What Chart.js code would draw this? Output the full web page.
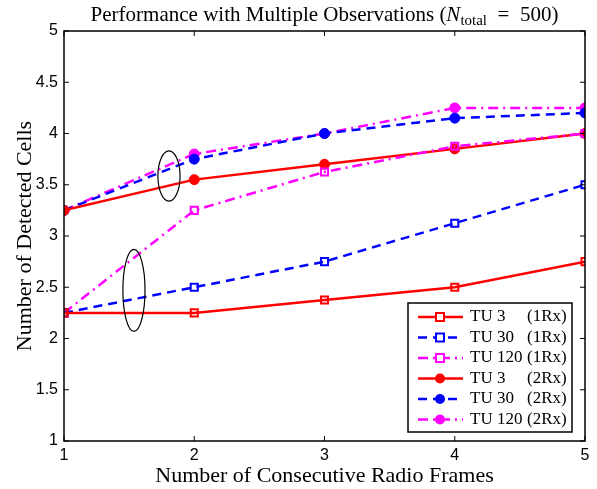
<!DOCTYPE html>
<html>
<head>
<meta charset="utf-8">
<script src="https://cdn.jsdelivr.net/npm/chart.js@4/dist/chart.umd.min.js"></script>
<style>
  html, body { margin: 0; padding: 0; background: #fff; }
  #wrap { width: 597px; height: 489px; }
</style>
</head>
<body>
<div id="wrap"><canvas id="chart" width="597" height="489"></canvas></div>
<script>
// Data
const frames = [1, 2, 3, 4, 5];
const yTicks = [1, 1.5, 2, 2.5, 3, 3.5, 4, 4.5, 5];

const tu3Rx1   = [2.25, 2.25, 2.375, 2.5, 2.75];
const tu30Rx1  = [2.25, 2.5, 2.75, 3.125, 3.5];
const tu120Rx1 = [2.25, 3.25, 3.625, 3.875, 4.0];
const tu3Rx2   = [3.25, 3.55, 3.7, 3.85, 4.0];
const tu30Rx2  = [3.25, 3.75, 4.0, 4.15, 4.2];
const tu120Rx2 = [3.25, 3.8, 4.0, 4.25, 4.25];

// annotation ellipses (centre x, centre y, half width, half height) in data units
const ellipses = [
    [1.537, 2.47, 0.085, 0.40],
    [1.806, 3.585, 0.085, 0.245]
];

const RED = '#ff0000', BLUE = '#0000ff', MAG = '#ff00ff';
const SOLID = [], DASH = [9, 6], DASHDOT = [10, 5, 2, 5];
const SERIF = '"Liberation Serif", "Times New Roman", serif';
const SANS = '"Liberation Sans", Arial, sans-serif';

function series(label, rx, values, color, dash, isSquare) {
    return {
        label: label,
        rx: rx,
        data: values.map((v, i) => ({ x: frames[i], y: v })),
        borderColor: color,
        borderWidth: 2.5,
        borderDash: dash,
        pointStyle: isSquare ? 'rect' : 'circle',
        pointRadius: 5,
        pointBorderWidth: isSquare ? 2 : 1,
        pointBorderColor: color,
        pointBackgroundColor: isSquare ? 'rgba(255,255,255,0)' : color,
        tension: 0,
        fill: false
    };
}

const datasets = [
    series('TU 3', '(1Rx)', tu3Rx1, RED, SOLID, true),
    series('TU 30', '(1Rx)', tu30Rx1, BLUE, DASH, true),
    series('TU 120', '(1Rx)', tu120Rx1, MAG, DASHDOT, true),
    series('TU 3', '(2Rx)', tu3Rx2, RED, SOLID, false),
    series('TU 30', '(2Rx)', tu30Rx2, BLUE, DASH, false),
    series('TU 120', '(2Rx)', tu120Rx2, MAG, DASHDOT, false)
];

// Box around the plot with inward ticks on every side
const boxPlugin = {
    id: 'box',
    afterDraw(chart) {
        const { ctx, chartArea: a, scales } = chart;
        ctx.save();
        ctx.strokeStyle = '#000';
        ctx.lineWidth = 1.5;
        ctx.strokeRect(a.left, a.top, a.right - a.left, a.bottom - a.top);
        ctx.lineWidth = 1;
        ctx.beginPath();
        frames.forEach(v => {
            const x = scales.x.getPixelForValue(v);
            ctx.moveTo(x, a.bottom); ctx.lineTo(x, a.bottom - 5);
            ctx.moveTo(x, a.top); ctx.lineTo(x, a.top + 5);
        });
        yTicks.forEach(v => {
            const y = scales.y.getPixelForValue(v);
            ctx.moveTo(a.left, y); ctx.lineTo(a.left + 5, y);
            ctx.moveTo(a.right, y); ctx.lineTo(a.right - 5, y);
        });
        ctx.stroke();
        ctx.restore();
    }
};

// Hand-drawn looking ellipses grouping 1Rx / 2Rx curves
const ellipsePlugin = {
    id: 'ellipses',
    afterDatasetsDraw(chart) {
        const { ctx, scales } = chart;
        ctx.save();
        ctx.strokeStyle = '#000';
        ctx.lineWidth = 1.2;
        ellipses.forEach(([cx, cy, rx, ry]) => {
            const px = scales.x.getPixelForValue(cx);
            const py = scales.y.getPixelForValue(cy);
            const w = scales.x.getPixelForValue(cx + rx) - px;
            const h = py - scales.y.getPixelForValue(cy + ry);
            ctx.beginPath();
            ctx.ellipse(px, py, w, h, 0, 0, Math.PI * 2);
            ctx.stroke();
        });
        ctx.restore();
    }
};

// Title with italic N and subscript
const titlePlugin = {
    id: 'mathTitle',
    afterDraw(chart) {
        const ctx = chart.ctx;
        const parts = [
            { t: 'Performance with Multiple Observations (', f: '21px ' + SERIF, dy: 0 },
            { t: 'N', f: 'italic 21px ' + SERIF, dy: 0 },
            { t: 'total', f: '15px ' + SERIF, dy: 4 },
            { t: '  =  500)', f: '21px ' + SERIF, dy: 0 }
        ];
        ctx.save();
        ctx.fillStyle = '#000';
        ctx.textBaseline = 'alphabetic';
        let total = 0;
        parts.forEach(p => { ctx.font = p.f; total += ctx.measureText(p.t).width; });
        let x = (chart.chartArea.left + chart.chartArea.right) / 2 - total / 2;
        parts.forEach(p => {
            ctx.font = p.f;
            ctx.fillText(p.t, x, 21 + p.dy);
            x += ctx.measureText(p.t).width;
        });
        ctx.restore();
    }
};

// Legend box in the lower right corner
const legendPlugin = {
    id: 'boxLegend',
    afterDraw(chart) {
        const { ctx, chartArea: a } = chart;
        const boxL = a.right - 177, boxT = a.bottom - 138, boxW = 164, boxH = 129;
        ctx.save();
        ctx.fillStyle = '#fff';
        ctx.fillRect(boxL, boxT, boxW, boxH);
        ctx.strokeStyle = '#000';
        ctx.lineWidth = 1.5;
        ctx.strokeRect(boxL, boxT, boxW, boxH);
        ctx.font = '17px ' + SERIF;
        ctx.textBaseline = 'middle';
        chart.data.datasets.forEach((ds, i) => {
            const y = boxT + 14 + i * 20.5;
            ctx.strokeStyle = ds.borderColor;
            ctx.lineWidth = 2.5;
            ctx.setLineDash(ds.borderDash);
            ctx.beginPath();
            ctx.moveTo(boxL + 10, y);
            ctx.lineTo(boxL + 55, y);
            ctx.stroke();
            ctx.setLineDash([]);
            const mx = boxL + 32;
            if (ds.pointStyle === 'rect') {
                ctx.fillStyle = '#fff';
                ctx.fillRect(mx - 3, y - 3, 6, 6);
                ctx.lineWidth = 2;
                ctx.strokeRect(mx - 4, y - 4, 8, 8);
            } else {
                ctx.fillStyle = ds.borderColor;
                ctx.beginPath();
                ctx.arc(mx, y, 5, 0, Math.PI * 2);
                ctx.fill();
            }
            ctx.fillStyle = '#000';
            ctx.fillText(ds.label, boxL + 62, y);
            ctx.fillText(ds.rx, boxL + 119, y);
        });
        ctx.restore();
    }
};

new Chart(document.getElementById('chart').getContext('2d'), {
    type: 'line',
    data: { datasets: datasets },
    options: {
        responsive: false,
        animation: false,
        layout: { padding: { top: 31, right: 12, left: 0, bottom: 0 } },
        plugins: {
            legend: { display: false },
            title: { display: false },
            tooltip: { enabled: false }
        },
        scales: {
            x: {
                type: 'linear',
                min: 1,
                max: 5,
                afterBuildTicks: (scale) => { scale.ticks = frames.map(v => ({ value: v })); },
                afterFit: (scale) => { scale.height = 48; },
                grid: { display: false, drawTicks: false },
                border: { display: false },
                ticks: { color: '#000', padding: 5, font: { family: SANS, size: 16 }, callback: (v) => String(v) },
                title: {
                    display: true,
                    text: 'Number of Consecutive Radio Frames',
                    color: '#000',
                    font: { family: SERIF, size: 22 },
                    padding: { top: 0, bottom: 0 }
                }
            },
            y: {
                min: 1,
                max: 5,
                afterBuildTicks: (scale) => { scale.ticks = yTicks.map(v => ({ value: v })); },
                afterFit: (scale) => { scale.width = 64; },
                grid: { display: false, drawTicks: false },
                border: { display: false },
                ticks: { color: '#000', padding: 6, font: { family: SANS, size: 16 }, callback: (v) => String(v) },
                title: {
                    display: true,
                    text: 'Number of Detected Cells',
                    color: '#000',
                    font: { family: SERIF, size: 22 },
                    padding: { top: 12, bottom: 0 }
                }
            }
        }
    },
    plugins: [ellipsePlugin, boxPlugin, legendPlugin, titlePlugin]
});
</script>
</body>
</html>
